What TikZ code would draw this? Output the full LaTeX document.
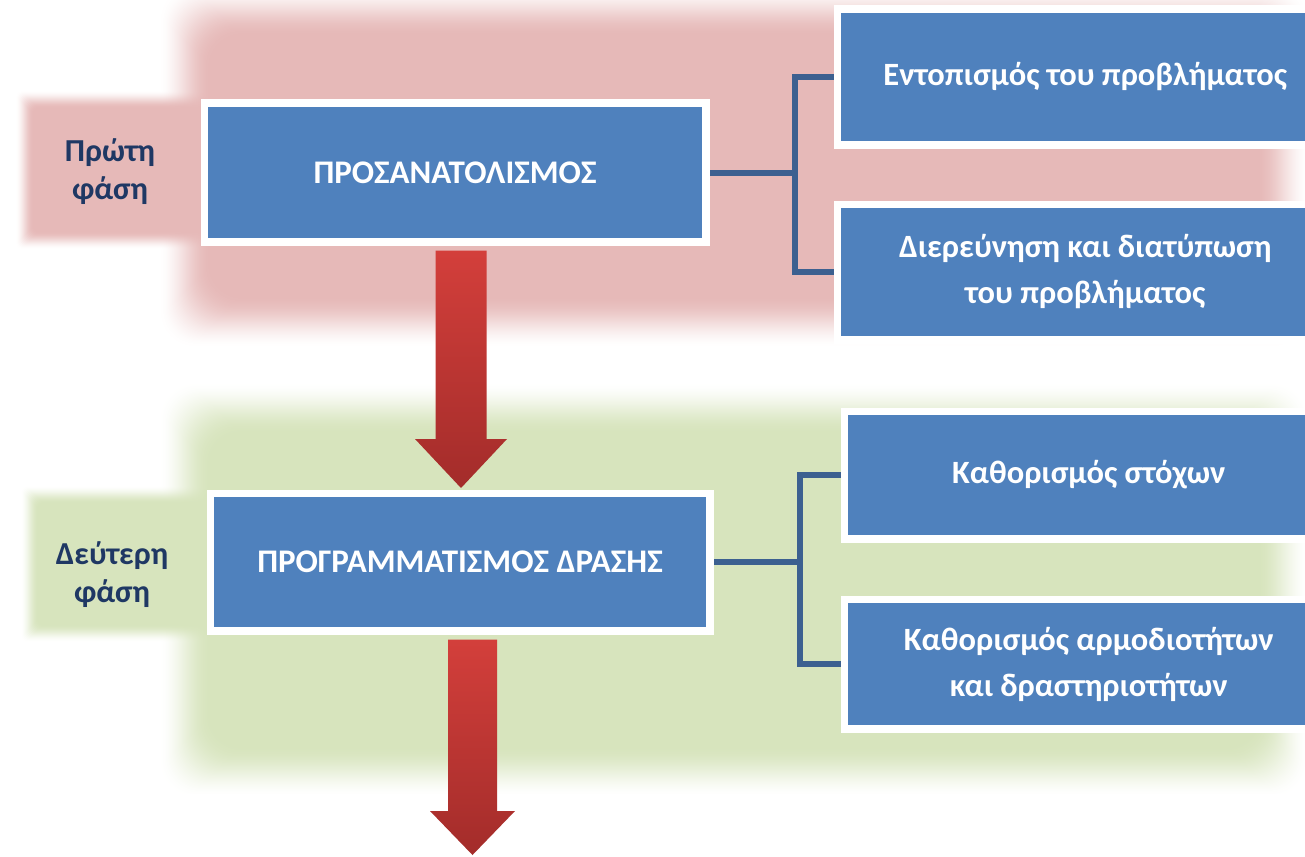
\documentclass[tikz,border=0pt]{standalone}
\usepackage{fontspec}
\setmainfont{Carlito}
\usetikzlibrary{calc}

\definecolor{phasepink}{HTML}{E6B9B8}
\definecolor{phasegreen}{HTML}{D7E4BD}
\definecolor{boxblue}{HTML}{4F81BD}
\definecolor{linkblue}{HTML}{3C6090}
\definecolor{labelnavy}{HTML}{1F3864}
\definecolor{arrowtop}{HTML}{D33F3B}
\definecolor{arrowbot}{HTML}{A32C2A}

% Rectangle with a soft edge: colour #1, nominal corners (#2,#3)-(#4,#5),
% #6 layers of 1pt each across the edge, corner radius #7.
% The layer opacities are chosen so that the stacked coverage follows
% a smoothstep profile across the edge.
\newcommand\softrect[7]{%
  \foreach \k in {1,...,#6} {
    \pgfmathsetmacro\dd{(\k-1)-#6/2}
    \pgfmathsetmacro\tp{(\k-1)/#6}
    \pgfmathsetmacro\tc{\k/#6}
    \pgfmathsetmacro\cp{3*\tp*\tp-2*\tp*\tp*\tp}
    \pgfmathsetmacro\cc{3*\tc*\tc-2*\tc*\tc*\tc}
    \pgfmathsetmacro\aa{min(1,max(0,1-(1-\cc)/(1-\cp)))}
    \fill[#1, fill opacity=\aa, rounded corners=#7]
      ({#2+\dd},{#3+\dd}) rectangle ({#4-\dd},{#5-\dd});
  }}

% Broad downward arrow from #1 to #2: shaft half width #3, head half width #4, head length #5
\newcommand\fatarrow[5]{%
  \shade[top color=arrowtop, bottom color=arrowbot]
    ($(#1)+(-#3,0)$) -- ($(#1)+(#3,0)$) -- ($(#2)+(#3,-#5)$) -- ($(#2)+(#4,-#5)$)
    -- (#2) -- ($(#2)+(-#4,-#5)$) -- ($(#2)+(-#3,-#5)$) -- cycle;}

\begin{document}
\begin{tikzpicture}[x=1pt, y=-1pt,
  mainbox/.style={rectangle, fill=boxblue, draw=white, line width=5pt, inner sep=0pt,
    text=white, font=\bfseries\fontsize{33}{46}\selectfont, align=center},
  sidebox/.style={mainbox, font=\bfseries\fontsize{32.5}{46}\selectfont},
  link/.style={draw=linkblue, line width=6pt},
  phaselabel/.style={text=labelnavy, font=\bfseries\fontsize{32}{38}\selectfont, align=center, inner sep=0pt}]

\useasboundingbox (0,0) rectangle (1305,856);
\clip (0,0) rectangle (1305,856);

% pink band of the first phase: wide body and a tab on the left
\softrect{phasepink}{185}{10}{1283}{322}{52}{34}
\softrect{phasepink}{25}{100}{230}{240}{18}{6}

% green band of the second phase, cut off at the bottom
\begin{scope}
  \clip (0,0) rectangle (1305,793);
  \softrect{phasegreen}{185}{408}{1283}{772}{52}{34}
  \softrect{phasegreen}{30}{495}{230}{633}{18}{6}
\end{scope}

% phase labels
\node[phaselabel] (ph1) at (110,172) {Πρώτη\\φάση};
\node[phaselabel] (ph2) at (112,575) {Δεύτερη\\φάση};

% boxes
\node[mainbox, minimum width=499pt, minimum height=136pt] (boxA) at (455,172.5) {ΠΡΟΣΑΝΑΤΟΛΙΣΜΟΣ};
\node[mainbox, minimum width=497pt, minimum height=135pt] (boxD) at (460,562) {ΠΡΟΓΡΑΜΜΑΤΙΣΜΟΣ ΔΡΑΣΗΣ};

\node[sidebox, minimum width=493.5pt, minimum height=133pt] (boxB) at (1085.25,77) {Εντοπισμός του προβλήματος};
\node[sidebox, minimum width=493.5pt, minimum height=133pt] (boxC) at (1085.25,272) {Διερεύνηση και διατύπωση\\του προβλήματος};
\node[sidebox, minimum width=486.5pt, minimum height=125pt] (boxE) at (1088.75,475) {Καθορισμός στόχων};
\node[sidebox, minimum width=486.5pt, minimum height=127pt] (boxF) at (1088.75,664) {Καθορισμός αρμοδιοτήτων\\και δραστηριοτήτων};

% bracket connectors
\coordinate (j1) at (795,172.5);
\coordinate (j2) at (800,562);
\draw[link] (boxA.east) -- (j1);
\draw[link] (boxB.west) -| (j1) |- (boxC.west);
\draw[link] (boxD.east) -- (j2);
\draw[link] (boxE.west) -| (j2) |- (boxF.west);

% redraw the box frames over the connector ends
\foreach \b in {boxA,boxB,boxC,boxD,boxE,boxF}
  \draw[white, line width=5pt] (\b.north west) rectangle (\b.south east);

% flow arrows
\coordinate (ar1s) at ($(boxA.south)+(6,7.5)$);
\coordinate (ar1e) at ($(boxD.north)+(1,-4)$);
\coordinate (ar2s) at ($(boxD.south)+(12.5,7.5)$);
\coordinate (ar2e) at (472.5,855);
\fatarrow{ar1s}{ar1e}{25.5}{46}{49}
\fatarrow{ar2s}{ar2e}{24.5}{42.5}{44}

\end{tikzpicture}
\end{document}
